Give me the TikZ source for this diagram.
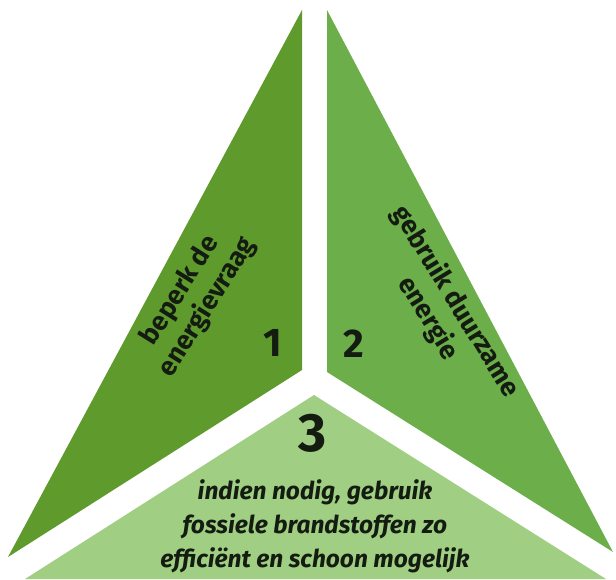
\documentclass[tikz,border=0pt]{standalone}
\usepackage{fontspec}
\setmainfont{Fira Sans}
\newfontfamily\labfont{Fira Sans}
\newfontfamily\numfont{Fira Sans Bold}
\definecolor{gleft}{RGB}{94,154,44}
\definecolor{gright}{RGB}{108,174,74}
\definecolor{gbottom}{RGB}{160,206,130}
\definecolor{ink}{RGB}{20,28,18}
\tikzset{
  lab/.style={text=ink, align=center, inner sep=0pt, font=\labfont\bfseries\fontsize{26.5}{32}\selectfont},
  num/.style={text=ink, inner sep=0pt, font=\numfont\fontsize{40}{40}\selectfont}
}
\begin{document}
\begin{tikzpicture}[x=1pt,y=-1pt]
\useasboundingbox (0,0) rectangle (616,579);
\begin{scope}
\clip (0,0) rectangle (616,579);
\fill[gleft] (302,10) -- (302,370) -- (8,557) -- cycle;
\fill[gright] (327,10) -- (327,372) -- (613,552) -- cycle;
\fill[gbottom] (314,395) -- (25,579) -- (606,579) -- cycle;
\end{scope}
\node[lab, rotate=58] (t1) at (194,299) {beperk de\\energievraag};
\node[lab, rotate=-58.5] (t2) at (442,310) {gebruik duurzame\\energie};
\node[num] (n1) at (273,343) {1};
\node[num] (n2) at (354,344) {2};
\node[num, font=\numfont\fontsize{54}{54}\selectfont] (n3) at (313,433) {3};
\node[lab, font=\labfont\bfseries\itshape\fontsize{24.5}{34}\selectfont] (t3) at (315,526) {indien nodig, gebruik\\fossiele brandstoffen zo\\efficiënt en schoon mogelijk};
\end{tikzpicture}
\end{document}
